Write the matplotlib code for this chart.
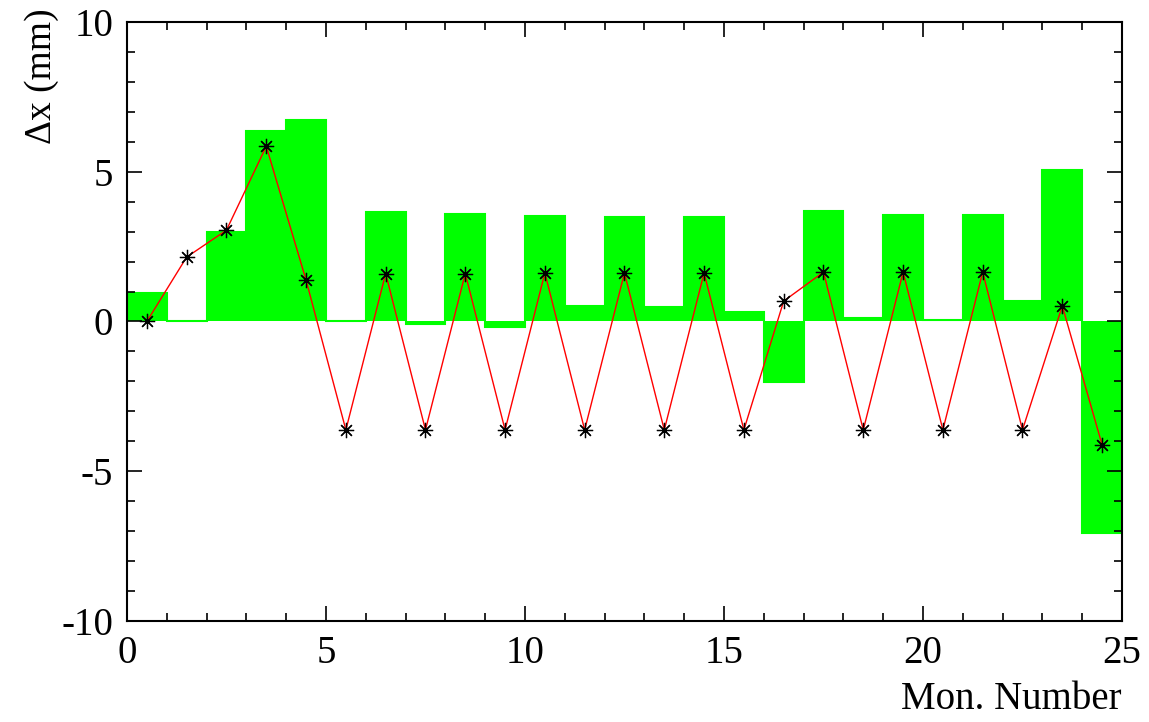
import matplotlib.pyplot as plt
from matplotlib.ticker import MultipleLocator

plt.rcParams['font.family'] = ['Liberation Serif', 'DejaVu Serif']
plt.rcParams['axes.unicode_minus'] = False

# histogram: one bin per monitor (green)
bin_edges = list(range(0, 26))
bin_vals = [0.95, 0.0, 2.98, 6.35, 6.72, 0.0, 3.65, -0.1, 3.58, -0.2,
            3.52, 0.5, 3.48, 0.48, 3.48, 0.3, -2.02, 3.68, 0.12, 3.55,
            0.05, 3.55, 0.68, 5.05, -7.05]

# points at bin centres (red line, black stars)
mon_x = [i + 0.5 for i in range(25)]
mon_y = [0.0, 2.15, 3.05, 5.85, 1.38, -3.62, 1.6, -3.62, 1.6, -3.62,
         1.62, -3.62, 1.62, -3.62, 1.62, -3.62, 0.68, 1.65, -3.62, 1.65,
         -3.62, 1.65, -3.62, 0.52, -4.12]

fig = plt.figure(figsize=(11.49, 7.22), dpi=100)
ax = fig.add_axes([0.1105, 0.140, 0.866, 0.8295])

# filled histogram with green outline
ax.stairs(bin_vals, bin_edges, fill=True, baseline=0, color='#00ff00', lw=0)
ax.stairs(bin_vals, bin_edges, baseline=0, color='#00ff00', lw=1.5)

ax.plot(mon_x, mon_y, color='red', lw=1, zorder=3)
ax.plot(mon_x, mon_y, ls='none', marker=(8, 2, 0), ms=11, mec='black',
        mew=0.9, zorder=4)

ax.set_xlim(0, 25)
ax.set_ylim(-10, 10)
ax.xaxis.set_major_locator(MultipleLocator(5))
ax.xaxis.set_minor_locator(MultipleLocator(1))
ax.yaxis.set_major_locator(MultipleLocator(5))
ax.yaxis.set_minor_locator(MultipleLocator(1))
ax.tick_params(which='both', direction='in', top=True, right=True,
               labelsize=28, width=1.2)
ax.tick_params(which='major', length=11, pad=10)
ax.tick_params(which='minor', length=6)
for s in ax.spines.values():
    s.set_linewidth(1.5)

ax.set_xlabel('Mon. Number', fontsize=28)
ax.xaxis.set_label_coords(1.0, -0.1)
ax.xaxis.label.set_ha('right')
ax.set_ylabel('Δx (mm)', fontsize=27)
ax.yaxis.set_label_coords(-0.103, 1.022)
ax.yaxis.label.set_va('top')
ax.yaxis.label.set_ha('right')

fig.savefig('out.png', dpi=100)
